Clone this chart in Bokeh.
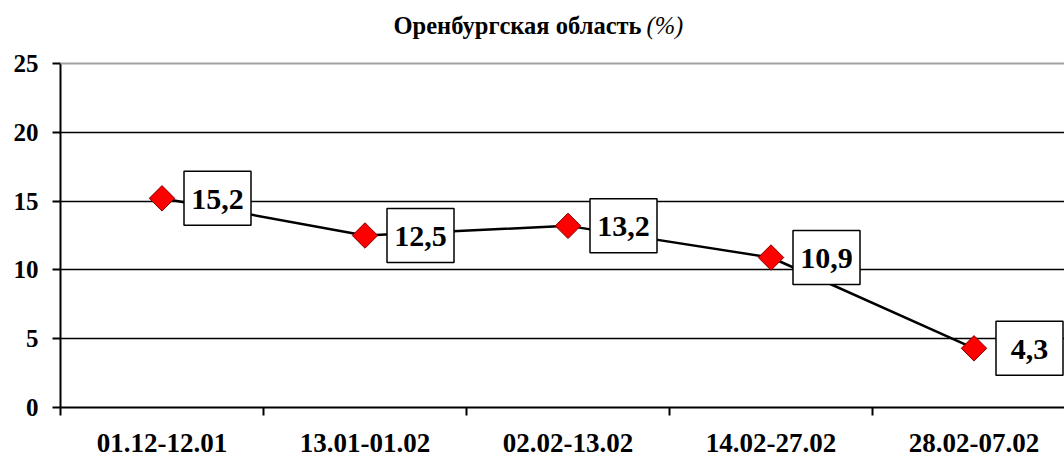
import math
from bokeh.plotting import figure
from bokeh.models import FixedTicker, Span, Label, ColumnDataSource
from bokeh.transform import dodge
from bokeh.embed import file_html
from bokeh.resources import INLINE
from bokeh.core.properties import value

categories = ["01.12-12.01", "13.01-01.02", "02.02-13.02", "14.02-27.02", "28.02-07.02"]
values = [15.2, 12.5, 13.2, 10.9, 4.3]
value_labels = ["15,2", "12,5", "13,2", "10,9", "4,3"]
y_ticks = [0, 5, 10, 15, 20, 25]
title_main = "Оренбургская область"
title_unit = "(%)"

FONT = "Liberation Serif"

xs = [i + 0.5 for i in range(len(categories))]
boundaries = [float(i) for i in range(len(categories) + 1)]

W, H = 1064, 457
LEFT, BOTTOM = 60, 50
CAT_PX = 203.0
frame_h = H - BOTTOM           # frame spans from canvas top to y=407
px_per_unit = 344 / 25.0       # 0..25 spans 344 px in the reference
y_top = frame_h / px_per_unit
x_right = (W - LEFT) / CAT_PX

p = figure(width=W, height=H, output_backend="svg", toolbar_location=None,
           x_range=(0, x_right), y_range=(0, y_top),
           min_border_left=LEFT, min_border_top=0, min_border_right=0, min_border_bottom=BOTTOM)
p.outline_line_color = None
p.background_fill_color = "white"

# x axis
p.xaxis.ticker = FixedTicker(ticks=xs, minor_ticks=boundaries)
p.xaxis.major_label_overrides = {x: c for x, c in zip(xs, categories)}
p.xaxis.major_tick_out = 0
p.xaxis.major_tick_in = 0
p.xaxis.minor_tick_out = 8
p.xaxis.minor_tick_in = 0
p.xaxis.minor_tick_line_color = "black"
p.xaxis.minor_tick_line_width = 2
p.xaxis.axis_line_color = "black"
p.xaxis.axis_line_width = 2
p.xaxis.major_label_standoff = 18
p.xaxis.major_label_text_font = FONT
p.xaxis.major_label_text_font_style = "bold"
p.xaxis.major_label_text_font_size = "27px"
p.xaxis.major_label_text_color = "black"

# y axis
p.yaxis.ticker = FixedTicker(ticks=y_ticks)
p.yaxis.bounds = (y_ticks[0], y_ticks[-1])
p.yaxis.major_tick_out = 8
p.yaxis.major_tick_in = 0
p.yaxis.minor_tick_line_color = None
p.yaxis.major_tick_line_color = "black"
p.yaxis.major_tick_line_width = 2
p.yaxis.axis_line_color = "black"
p.yaxis.axis_line_width = 2
p.yaxis.major_label_standoff = 14
p.yaxis.major_label_text_font = FONT
p.yaxis.major_label_text_font_style = "bold"
p.yaxis.major_label_text_font_size = "25px"
p.yaxis.major_label_text_color = "black"

p.xgrid.visible = False
p.ygrid.ticker = FixedTicker(ticks=y_ticks[1:-1])
p.ygrid.grid_line_color = "black"
p.ygrid.grid_line_width = 1.5
p.add_layout(Span(location=y_ticks[-1], dimension="width", line_color="#a0a0a0", line_width=2))

src = ColumnDataSource(dict(x=xs, y=values, label=value_labels))
p.line("x", "y", source=src, line_color="black", line_width=2.5)
p.scatter("x", "y", source=src, marker="square", angle=math.pi / 4, size=18,
          fill_color="#ff0000", line_color="#800000", line_width=1)

# data label boxes: 67x54 px, left edge 22 px right of the point
BOX_W, BOX_H, BOX_GAP = 67, 54, 22
box_shift = (BOX_GAP + BOX_W / 2) / CAT_PX
p.rect(x=dodge("x", box_shift, range=p.x_range), y="y", source=src,
       width=BOX_W, height=BOX_H, width_units="screen", height_units="screen",
       fill_color="white", line_color="black", line_width=1.5)
p.text("x", "y", text="label", source=src, text_font=value(FONT), text_font_style="bold",
       text_font_size="30px", text_color="black", text_align="center", text_baseline="middle",
       x_offset=BOX_GAP + BOX_W / 2, y_offset=1)

title_y = (frame_h - 25) / px_per_unit
title_x = (641 - LEFT) / CAT_PX
p.add_layout(Label(x=title_x, y=title_y, text=title_main, text_font=FONT, text_font_style="bold",
                   text_font_size="24.5px", text_align="right", text_baseline="middle",
                   text_color="black"))
p.add_layout(Label(x=title_x, y=title_y, x_offset=5, text=title_unit, text_font=FONT,
                   text_font_style="italic", text_font_size="24.5px", text_align="left",
                   text_baseline="middle", text_color="black"))

open("out.html", "w").write(file_html(p, INLINE))
